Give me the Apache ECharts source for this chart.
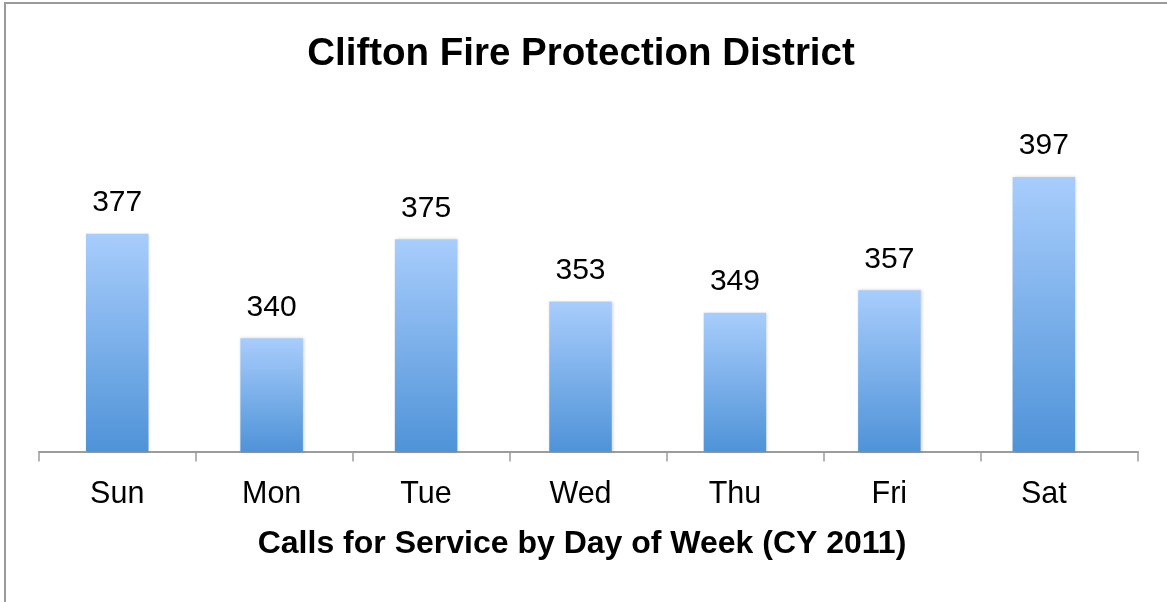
<!DOCTYPE html>
<html>
<head>
<meta charset="utf-8">
<script src="https://cdn.jsdelivr.net/npm/echarts@6/dist/echarts.min.js"></script>
<style>
  html, body { margin: 0; padding: 0; background: #fff; }
  #wrap { position: relative; width: 1167px; height: 602px; overflow: hidden; }
  #chart { position: absolute; left: 0; top: 0; width: 1167px; height: 602px; }
  #frame { position: absolute; left: 4px; top: 2px; width: 1200px; height: 700px;
           border-top: 2px solid #9a9a9a; border-left: 2px solid #9a9a9a; pointer-events: none; }
</style>
</head>
<body>
<div id="wrap">
  <div id="chart"></div>
  <div id="frame"></div>
</div>
<script>
const titleText = 'Clifton Fire Protection District';
const axisTitle = 'Calls for Service by Day of Week (CY 2011)';
const categories = ['Sun', 'Mon', 'Tue', 'Wed', 'Thu', 'Fri', 'Sat'];
const calls = [377, 340, 375, 353, 349, 357, 397];
const yMin = 300;
const yMax = 420;

const FONT = '"Liberation Sans", Arial, Helvetica, sans-serif';
const chart = echarts.init(document.getElementById('chart'), null, { renderer: 'canvas' });

const barGradient = new echarts.graphic.LinearGradient(0, 0, 0, 1, [
  { offset: 0, color: '#a8cdfc' },
  { offset: 1, color: '#4f93d8' }
]);

chart.setOption({
  backgroundColor: '#ffffff',
  animation: false,
  title: [
    {
      text: titleText,
      left: 576, top: 30, textAlign: 'center',
      textStyle: { fontFamily: FONT, fontSize: 38.5, fontWeight: 'bold', color: '#000' }
    },
    {
      text: axisTitle,
      left: 577, top: 523, textAlign: 'center',
      textStyle: { fontFamily: FONT, fontSize: 32, fontWeight: 'bold', color: '#000' }
    }
  ],
  grid: [
    { left: 40, width: 1081, top: 112, height: 339.5 },
    { left: 39, width: 1099, top: 112, height: 339.5 }
  ],
  xAxis: [
    {
      type: 'category', gridIndex: 0, data: categories,
      axisLine: { show: false }, axisTick: { show: false },
      axisLabel: { margin: 28, fontFamily: FONT, fontSize: 30.5, color: '#000' }
    },
    {
      type: 'category', gridIndex: 1, data: categories,
      axisLine: { show: true, lineStyle: { color: '#9c9c9c', width: 2 } },
      axisTick: { show: true, length: 10, lineStyle: { color: '#9c9c9c', width: 1.5 } },
      axisLabel: { show: false }
    }
  ],
  yAxis: [
    { type: 'value', gridIndex: 0, min: yMin, max: yMax, show: false, splitLine: { show: false } },
    { type: 'value', gridIndex: 1, min: yMin, max: yMax, show: false, splitLine: { show: false } }
  ],
  series: [
    {
      type: 'bar', xAxisIndex: 0, yAxisIndex: 0,
      data: calls,
      barWidth: 62.5,
      itemStyle: {
        color: barGradient,
        shadowBlur: 3, shadowColor: 'rgba(0,0,0,0.18)', shadowOffsetX: 1, shadowOffsetY: 0
      },
      label: {
        show: true, position: 'top', distance: 16,
        fontFamily: FONT, fontSize: 30, color: '#000'
      }
    }
  ]
});
</script>
</body>
</html>
